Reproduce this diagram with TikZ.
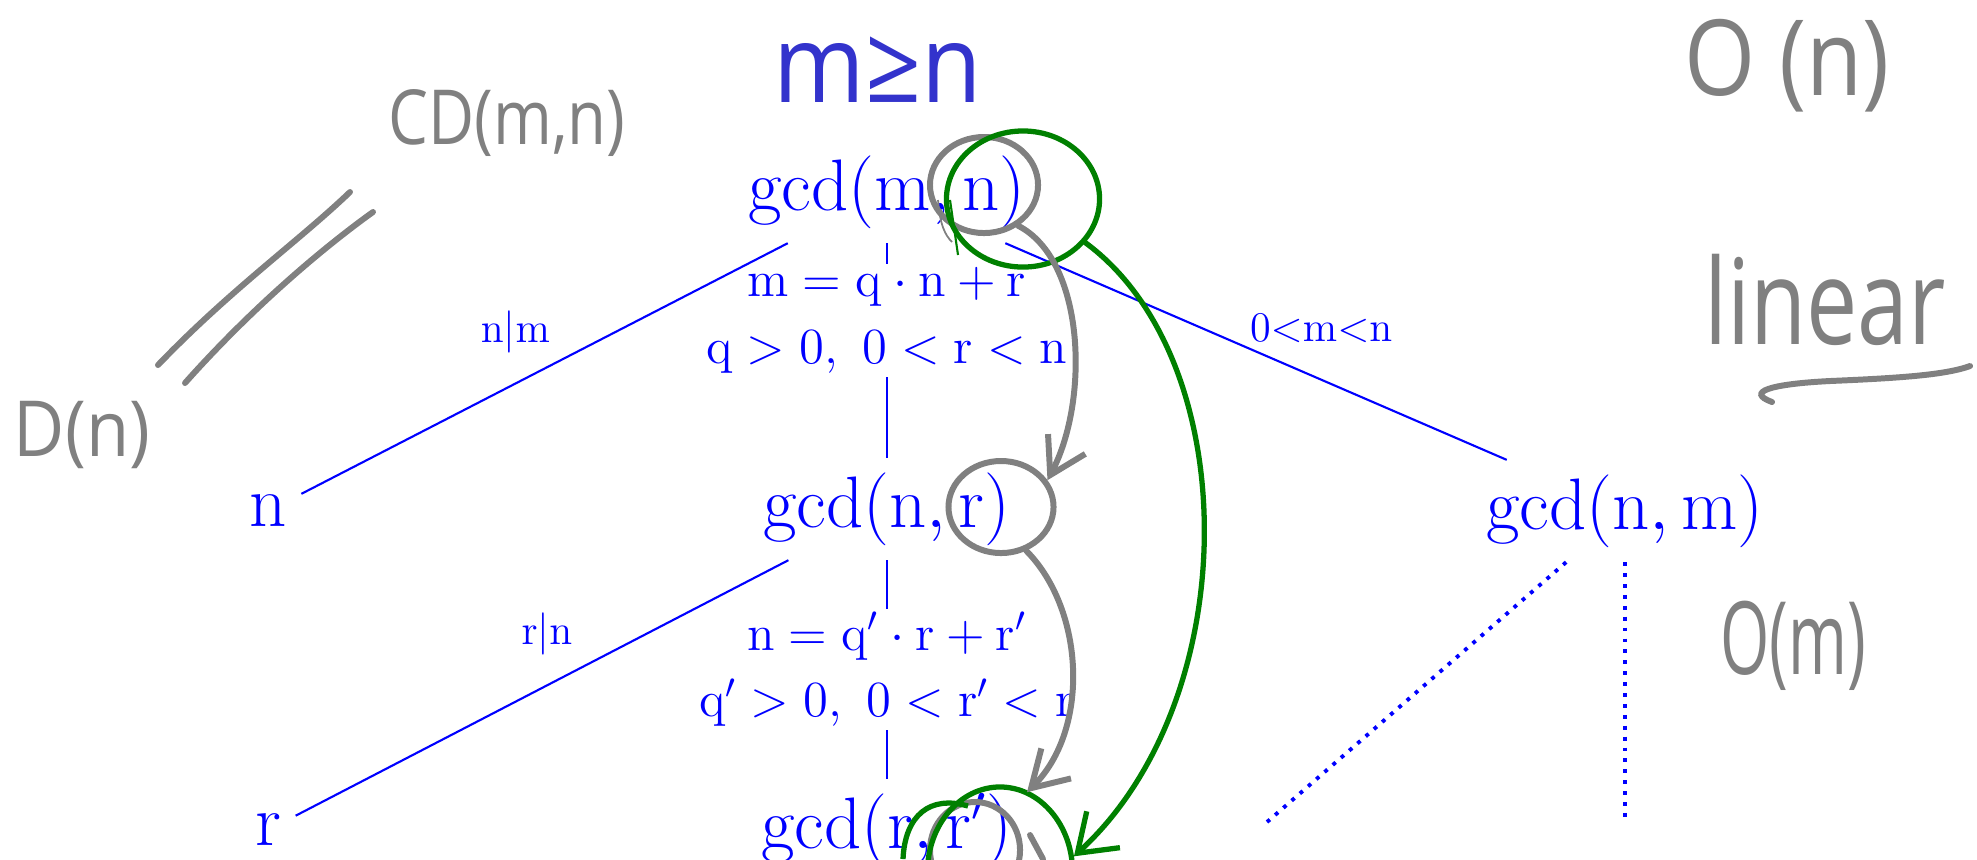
\documentclass[tikz,border=0pt]{standalone}
\usepackage[no-math]{fontspec}
\usepackage{amsmath}
\usepackage{amssymb}
\usepackage{tikz}
\usetikzlibrary{shapes.geometric, arrows.meta, positioning}
\newfontfamily\handfont{Open Sans}
\definecolor{penblue}{RGB}{51,51,204}
\definecolor{pengreen}{RGB}{0,128,0}
% upright variables as on the slide
\DeclareMathSymbol{m}{\mathalpha}{operators}{`m}
\DeclareMathSymbol{n}{\mathalpha}{operators}{`n}
\DeclareMathSymbol{q}{\mathalpha}{operators}{`q}
\DeclareMathSymbol{r}{\mathalpha}{operators}{`r}

\begin{document}
\begin{tikzpicture}[x=0.01cm, y=-0.01cm,
    tnode/.style={text=blue, font=\fontsize{20}{24}\selectfont, inner sep=4pt},
    eqn/.style={text=blue, fill=white, font=\fontsize{14}{19}\selectfont, align=center, inner sep=1pt},
    lbl/.style={text=blue, font=\fontsize{12.8}{15}\selectfont},
    branch/.style={blue, line width=0.6pt},
    dots/.style={blue, dotted, line width=1.1pt},
    hand/.style={text=gray, inner sep=0pt},
    pen/.style={gray, line width=1.7pt, line cap=round},
    ring/.style={ellipse, draw=gray, line width=1.7pt, inner sep=0pt},
    gring/.style={ellipse, draw=pengreen, line width=1.5pt, inner sep=0pt},
    garrow/.style={pen, -{Straight Barb[length=10pt, width=12pt]}},
    grarrow/.style={pengreen, line width=1.5pt, line cap=round, -{Straight Barb[length=10pt, width=14pt]}}
]
\useasboundingbox (0,0) rectangle (1977,859);
\clip (0,0) rectangle (1977,859);

% the recursion tree
\node[tnode] (gcdmn) at (887,192) {$\gcd(m,n)$};
\node[tnode] (nleaf) at (268,511) {$n$};
\node[tnode] (gcdnr) at (887,509) {$\gcd(n,r)$};
\node[tnode] (gcdnm) at (1625,511) {$\gcd(n,m)$};
\node[tnode] (rleaf) at (268,830) {$r$};
\node[tnode] (gcdrr) at (887,830) {$\gcd(r,r')$};
\coordinate (dleft) at (1267,822);
\coordinate (dvert) at (1625,822);

\draw[branch] (gcdmn) -- node[eqn, pos=0.36] {$m = q\cdot n + r$\\ $q > 0,\ 0 < r < n$} (gcdnr);
\draw[branch] (gcdnr) -- node[eqn] {$n = q'\cdot r + r'$\\ $q' > 0,\ 0 < r' < r$} (gcdrr);
\draw[branch] (gcdmn) -- node[lbl, pos=0.56, above=5pt] {$n|m$} (nleaf);
\draw[branch] (gcdmn) -- node[lbl, pos=0.63, above=7pt] {$0{<}m{<}n$} (gcdnm);
\draw[branch] (gcdnr) -- node[lbl, pos=0.49, above=5pt] {$r|n$} (rleaf);
\draw[dots] (gcdnm) -- (dleft);
\draw[dots] (gcdnm) -- (dvert);

% handwritten notes
\node[hand, text=penblue, font=\handfont\fontsize{28}{30}\selectfont, yscale=1.1] (mgeqn) at (878,70) {m≥n};
\node[hand, font=\handfont\fontsize{18}{20}\selectfont, yscale=1.2] (cdmn) at (507,123) {CD(m,n)};
\node[hand, font=\handfont\fontsize{20}{22}\selectfont, yscale=1.1] (dn) at (82,435) {D(n)};
\node[hand, font=\handfont\fontsize{26}{28}\selectfont, yscale=1.15] (bigon) at (1787,66) {O (n)};
\node[hand, font=\handfont\fontsize{26}{28}\selectfont, yscale=1.3] (linear) at (1825,300) {linear};
\node[hand, font=\handfont\fontsize{18}{20}\selectfont, yscale=1.6] (bigom) at (1793,646) {O(m)};

\draw[pen] (158,365) .. controls (230,290) and (300,240) .. (350,192);
\draw[pen] (185,383) .. controls (250,310) and (320,250) .. (373,212);
\draw[pen] (1772,402) .. controls (1745,392) and (1770,384) .. (1830,381) .. controls (1900,378) and (1945,375) .. (1970,366);

% circles and arrows
\node[ring, minimum width=1.08cm, minimum height=0.96cm] (ringn) at (984,185) {};
\node[ring, minimum width=1.05cm, minimum height=0.92cm] (ringr) at (1001,507) {};
\node[ring, minimum width=0.9cm, minimum height=0.96cm] (ringrr) at (975,850) {};
\node[gring, minimum width=1.53cm, minimum height=1.36cm] (gringn) at (1023,199) {};
\node[gring, minimum width=1.45cm, minimum height=1.7cm] (gringrr) at (1000,872) {};
\draw[gray, line width=0.5pt] (938,200) .. controls (940,225) and (945,235) .. (952,242);
\draw[pengreen, line width=0.6pt] (950,200) -- (958,255);
\draw[pengreen, line width=1.5pt] (903,859) .. controls (905,815) and (930,795) .. (968,806);
\draw[pen] (1030,835) -- (1043,859);

\draw[garrow] (ringn.-50) .. controls (1085,260) and (1090,400) .. (ringr.30);
\draw[garrow, shorten >=8pt] (ringr.-60) .. controls (1085,610) and (1090,730) .. (ringrr.50);
\draw[grarrow] (gringn.-35) .. controls (1245,360) and (1245,700) .. (gringrr.12);
\end{tikzpicture}
\end{document}
